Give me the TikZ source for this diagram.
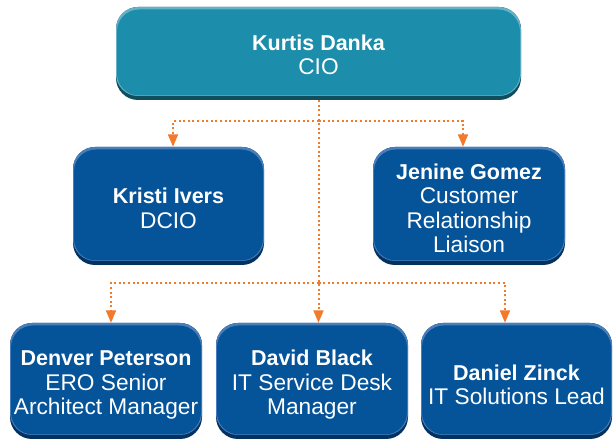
\documentclass[tikz,border=0pt]{standalone}
\usepackage{fontspec}
\setmainfont{Liberation Sans}
\usetikzlibrary{arrows.meta,calc}

\definecolor{tealbody}{RGB}{28,141,170}
\definecolor{teallight}{RGB}{100,178,200}
\definecolor{tealdark}{RGB}{14,78,94}
\definecolor{bluebody}{RGB}{5,84,154}
\definecolor{bluelight}{RGB}{72,126,186}
\definecolor{bluedark}{RGB}{3,50,96}
\definecolor{linkorange}{RGB}{243,121,43}

% bold name line; the optional argument sets a strut that lowers the text block
\newcommand\personname[2][18pt]{\rule{0pt}{#1}{\fontsize{21.5}{24.5}\selectfont\bfseries #2}}

\tikzset{
  card/.style n args={3}{
    rounded corners=22pt, fill=#3, text=white, align=center, inner sep=0pt,
    font=\fontsize{22.7}{24.5}\selectfont,
    path picture={
      \fill[#2, rounded corners=22pt]
        ([yshift=4pt]path picture bounding box.south west)
        rectangle (path picture bounding box.north east);
      \fill[#1, rounded corners=22pt]
        ([xshift=1pt,yshift=4.5pt]path picture bounding box.south west)
        rectangle ([xshift=-1pt,yshift=-2.5pt]path picture bounding box.north east);
    }},
  tealcard/.style={card={tealbody}{teallight}{tealdark}},
  bluecard/.style={card={bluebody}{bluelight}{bluedark}},
  link/.style={draw=linkorange, line width=2pt, dash pattern=on 2pt off 2.6pt,
    -{Triangle[width=10pt,length=12.5pt]}}
}

\begin{document}
\begin{tikzpicture}[x=1pt,y=1pt]
  \useasboundingbox (0,0) rectangle (613,441);
  \fill[white] (0,0) rectangle (613,441);

  % chief
  \node[tealcard, minimum width=405pt, minimum height=93pt] (cio) at (318.5,387.5)
    {\personname[18pt]{Kurtis Danka}\\CIO};

  % second level
  \node[bluecard, minimum width=191pt, minimum height=118pt] (dcio) at (168.5,235)
    {\personname[20pt]{Kristi Ivers}\\DCIO};
  \node[bluecard, minimum width=192pt, minimum height=118pt] (crl) at (469,235)
    {\personname[20pt]{Jenine Gomez}\\Customer\\Relationship\\Liaison};

  % third level
  \node[bluecard, minimum width=192pt, minimum height=116pt] (ero) at (106,60)
    {\personname[23pt]{Denver Peterson}\\ERO Senior\\Architect Manager};
  \node[bluecard, minimum width=192pt, minimum height=116pt] (desk) at (312,60)
    {\personname[23pt]{David Black}\\IT Service Desk\\Manager};
  \node[bluecard, minimum width=191pt, minimum height=116pt] (sol) at (516.5,60)
    {\personname[23pt]{Daniel Zinck}\\IT Solutions Lead};

  % junctions on the trunk
  \coordinate (upper) at (318.5,320);
  \coordinate (lower) at (318.5,158);

  % reporting lines
  \draw[link] (cio.south) -- (cio.south |- desk.north);
  \draw[link] (upper) -| ([xshift=4.5pt]dcio.north);
  \draw[link] (upper) -| ([xshift=-6pt]crl.north);
  \draw[link] (lower) -| ([xshift=5pt]ero.north);
  \draw[link] (lower) -| ([xshift=-11.5pt]sol.north);
\end{tikzpicture}
\end{document}
